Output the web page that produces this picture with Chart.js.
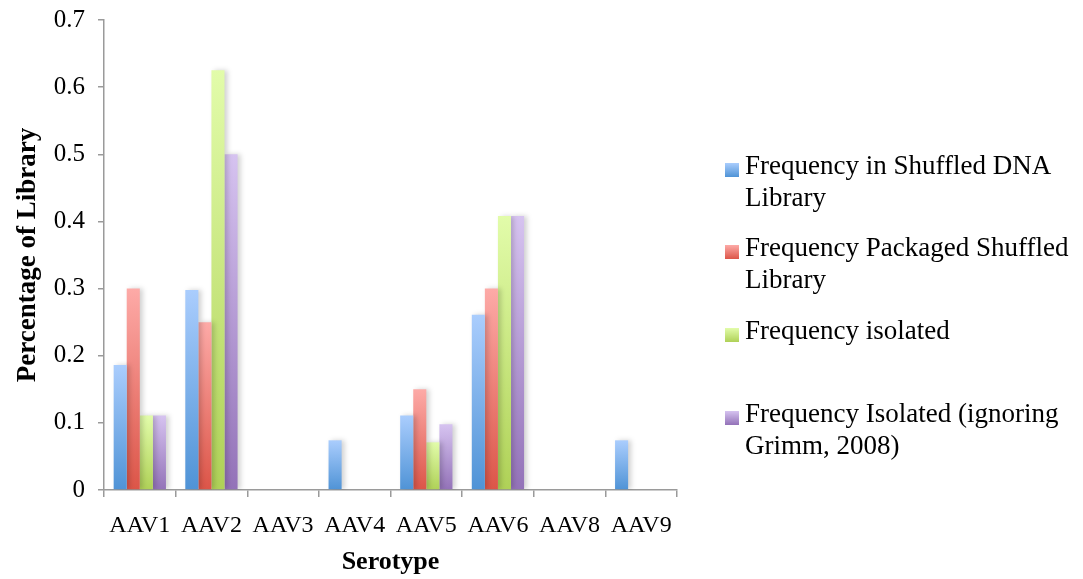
<!DOCTYPE html>
<html>
<head>
<meta charset="utf-8">
<script src="https://cdn.jsdelivr.net/npm/chart.js@4/dist/chart.umd.min.js"></script>
<style>
  html, body { margin: 0; padding: 0; background: #fff; }
  #wrap { position: relative; width: 1083px; height: 579px; }
  #chart { position: absolute; left: 0; top: 0; }
  .leg { position: absolute; left: 725px; font-family: "Liberation Serif", serif; font-size: 27px; line-height: 32px; color: #000; white-space: nowrap; }
  .leg .box { position: absolute; left: 0; top: 14px; width: 14px; height: 14px; }
  .leg .txt { position: absolute; left: 20px; top: 0; }
</style>
</head>
<body>
<div id="wrap">
  <canvas id="chart" width="1083" height="579"></canvas>
</div>
<script>
// Serotypes on the x axis
const serotypes = ['AAV1', 'AAV2', 'AAV3', 'AAV4', 'AAV5', 'AAV6', 'AAV8', 'AAV9'];

// Fraction of each library by serotype
const shuffledDNA      = [0.186, 0.298, 0, 0.074, 0.111, 0.261, 0, 0.074];
const packagedShuffled = [0.300, 0.250, 0, 0,     0.150, 0.300, 0, 0];
const isolated         = [0.111, 0.625, 0, 0,     0.071, 0.408, 0, 0];
const isolatedNoGrimm  = [0.111, 0.500, 0, 0,     0.098, 0.408, 0, 0];

// Series names, with the line breaks used in the legend
const seriesNames = [
  ['Frequency in Shuffled DNA', 'Library'],
  ['Frequency Packaged Shuffled', 'Library'],
  ['Frequency isolated'],
  ['Frequency Isolated (ignoring', 'Grimm, 2008)']
];

// Value axis tick labels
const yTickLabels = ['0', '0.1', '0.2', '0.3', '0.4', '0.5', '0.6', '0.7'];

// Light (top) and dark (bottom) shades for each series
const shades = [
  ['#aacdfd', '#4f93d6'],
  ['#fdaaa7', '#dc5548'],
  ['#e2fcaa', '#afd157'],
  ['#d6c3f0', '#9372b8']
];

const FONT = '"Liberation Serif", serif';

function barGradient(seriesIdx) {
  return function (ctx) {
    const chart = ctx.chart;
    const [light, dark] = shades[seriesIdx];
    if (!chart.chartArea || ctx.type !== 'data') return dark;
    const y = chart.scales.y;
    const v = ctx.raw || 0;
    const top = y.getPixelForValue(v);
    const bottom = y.getPixelForValue(0);
    if (bottom - top < 1) return dark;
    const g = chart.ctx.createLinearGradient(0, top, 0, bottom);
    g.addColorStop(0, light);
    g.addColorStop(1, dark);
    return g;
  };
}

const seriesValues = [shuffledDNA, packagedShuffled, isolated, isolatedNoGrimm];

const datasets = seriesValues.map((vals, i) => ({
  label: seriesNames[i].join(' '),
  data: vals,
  backgroundColor: barGradient(i),
  borderWidth: 0,
  categoryPercentage: 0.73,
  barPercentage: 1.0
}));

// Soft drop shadow behind the bars
const barShadow = {
  id: 'barShadow',
  beforeDatasetsDraw(chart) {
    const c = chart.ctx;
    c.save();
    c.shadowColor = 'rgba(0,0,0,0.18)';
    c.shadowBlur = 5;
    c.shadowOffsetX = 3;
    c.shadowOffsetY = 0;
  },
  afterDatasetsDraw(chart) {
    chart.ctx.restore();
  }
};

const axisColor = '#9a9a9a';

const chart = new Chart(document.getElementById('chart'), {
  type: 'bar',
  data: { labels: serotypes, datasets },
  plugins: [barShadow],
  options: {
    responsive: false,
    devicePixelRatio: 1,
    animation: false,
    layout: { padding: { left: 0, right: 406, top: 20, bottom: 0 } },
    plugins: {
      legend: { display: false },
      tooltip: { enabled: false }
    },
    scales: {
      x: {
        grid: {
          display: true,
          drawOnChartArea: false,
          drawTicks: true,
          tickLength: 7,
          color: axisColor,
          lineWidth: 1.5,
          offset: true
        },
        border: { display: true, color: axisColor, width: 1.5 },
        ticks: {
          color: '#000',
          font: { family: FONT, size: 24 },
          padding: 14,
          maxRotation: 0,
          autoSkip: false
        },
        title: {
          display: true,
          text: 'Serotype',
          color: '#000',
          font: { family: FONT, size: 26, weight: 'bold' },
          padding: { top: 0, bottom: 1 }
        },
        afterFit(scale) {
          scale.height = 89;
          scale.paddingLeft = 0;
          scale.paddingRight = 0;
        }
      },
      y: {
        min: 0,
        max: 0.7,
        grid: {
          display: true,
          drawOnChartArea: false,
          drawTicks: true,
          tickLength: 6,
          color: axisColor,
          lineWidth: 1.5
        },
        border: { display: true, color: axisColor, width: 1.5 },
        ticks: {
          stepSize: 0.1,
          color: '#000',
          font: { family: FONT, size: 25 },
          padding: 13,
          callback: (v, i) => yTickLabels[i]
        },
        title: {
          display: true,
          text: 'Percentage of Library',
          color: '#000',
          font: { family: FONT, size: 27, weight: 'bold' },
          padding: { top: 12, bottom: 0 }
        },
        afterFit(scale) {
          scale.width = 104;
          scale.paddingTop = 0;
          scale.paddingBottom = 0;
        }
      }
    }
  }
});

// Legend on the right, built from the series names and shades
const legendTops = [149, 231, 314, 397];
const wrap = document.getElementById('wrap');
seriesNames.forEach((lines, i) => {
  const item = document.createElement('div');
  item.className = 'leg';
  item.style.top = legendTops[i] + 'px';
  const box = document.createElement('span');
  box.className = 'box';
  box.style.background = 'linear-gradient(' + shades[i][0] + ', ' + shades[i][1] + ')';
  const txt = document.createElement('span');
  txt.className = 'txt';
  txt.innerHTML = lines.map(s => s.replace(/&/g, '&amp;').replace(/</g, '&lt;')).join('<br>');
  item.appendChild(box);
  item.appendChild(txt);
  wrap.appendChild(item);
});
</script>
</body>
</html>
